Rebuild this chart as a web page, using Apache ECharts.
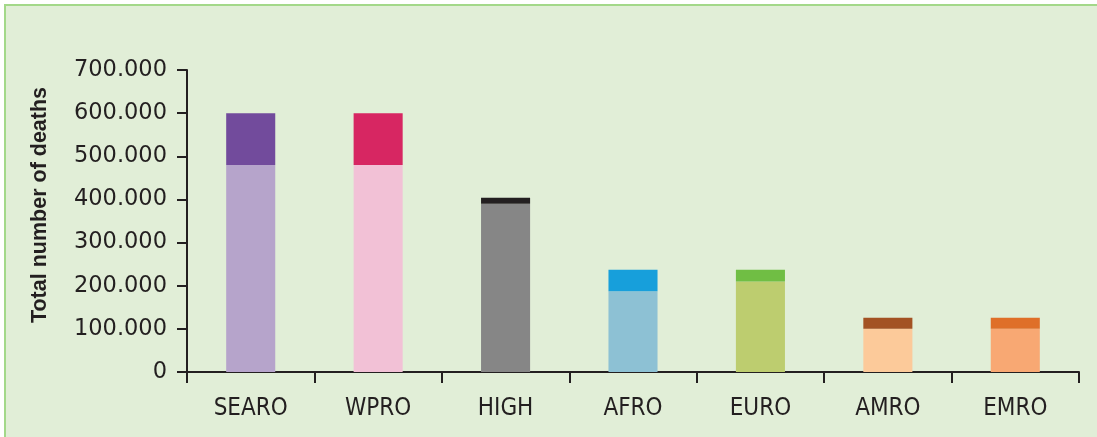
<!DOCTYPE html>
<html>
<head>
<meta charset="utf-8">
<script src="https://cdn.jsdelivr.net/npm/echarts@6/dist/echarts.min.js"></script>
<style>
html,body{margin:0;padding:0;width:1097px;height:437px;background:#ffffff;overflow:hidden;}
#bg{position:absolute;left:4px;top:4px;width:1093px;height:433px;background:#e1eed7;border-top:2px solid #a3d889;border-left:2px solid #a3d889;box-sizing:border-box;}
#chart{position:absolute;left:0;top:0;width:1097px;height:437px;}
</style>
</head>
<body>
<div id="bg"></div>
<div id="chart"></div>
<script>
const categories = ['SEARO', 'WPRO', 'HIGH', 'AFRO', 'EURO', 'AMRO', 'EMRO'];
const baseValues = [480000, 480000, 390000, 187000, 210000, 100000, 100000];
const topValues = [120000, 120000, 14000, 50000, 27000, 26000, 26000];
const lightColors = ['#b6a4cb', '#f2c1d6', '#868686', '#8dc1d4', '#bdcd6f', '#fcca9a', '#f8a873'];
const darkColors = ['#724b9c', '#d72662', '#231f20', '#179fdb', '#70be44', '#a35223', '#df6f28'];
const yTicks = [0, 100000, 200000, 300000, 400000, 500000, 600000, 700000];

const axisColor = '#231f20';
const chart = echarts.init(document.getElementById('chart'), null, {renderer: 'canvas'});
chart.setOption({
  backgroundColor: 'transparent',
  animation: false,
  grid: {left: 187, right: 18, top: 70, bottom: 65, containLabel: false},
  xAxis: {
    type: 'category',
    data: categories,
    axisLine: {lineStyle: {color: axisColor, width: 2}},
    axisTick: {show: true, length: 11, lineStyle: {color: axisColor, width: 2}},
    axisLabel: {color: axisColor, fontFamily: 'DejaVu Sans Condensed, DejaVu Sans', fontSize: 24, margin: 25}
  },
  yAxis: {
    type: 'value',
    min: yTicks[0],
    max: yTicks[yTicks.length - 1],
    interval: 100000,
    name: 'Total number of deaths',
    nameLocation: 'middle',
    nameGap: 136,
    nameTextStyle: {color: axisColor, fontFamily: 'Liberation Sans', fontWeight: 'bold', fontSize: 21.5, padding: [0, 0, 0, 32]},
    axisLine: {show: true, lineStyle: {color: axisColor, width: 2}},
    axisTick: {show: true, length: 10, lineStyle: {color: axisColor, width: 2}},
    splitLine: {show: false},
    axisLabel: {
      color: axisColor, fontFamily: 'DejaVu Sans', fontSize: 22.5, margin: 20,
      formatter: v => v === 0 ? '0' : String(v).replace(/\B(?=(\d{3})+(?!\d))/g, '.')
    }
  },
  series: [
    {
      type: 'bar', stack: 'total', barWidth: '38.5%',
      data: baseValues.map((v, i) => ({value: v, itemStyle: {color: lightColors[i]}}))
    },
    {
      type: 'bar', stack: 'total', barWidth: '38.5%',
      data: topValues.map((v, i) => ({value: v, itemStyle: {color: darkColors[i]}}))
    }
  ]
});
</script>
</body>
</html>
